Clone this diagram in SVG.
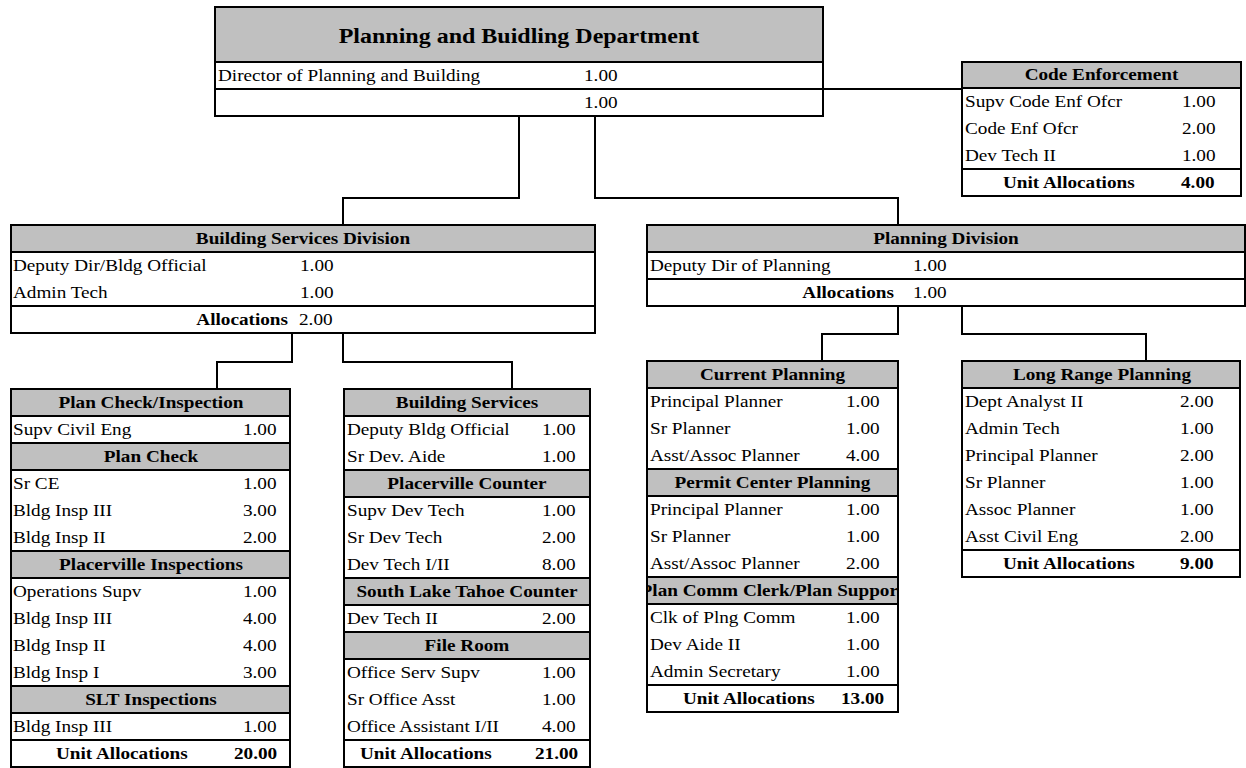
<svg xmlns="http://www.w3.org/2000/svg" width="1246" height="768" viewBox="0 0 1246 768">
<style>
.bg{fill:#fff}
.hd{fill:#c0c0c0}
.sep{stroke:#000;stroke-width:2}
.frame{fill:none;stroke:#000;stroke-width:2}
.conn{fill:none;stroke:#000;stroke-width:2}
text{font-family:"Liberation Serif","Times New Roman",serif;font-size:16px;fill:#000;transform-box:fill-box;transform-origin:left center;transform:scaleX(1.2)}
.b{font-weight:bold}
.c{text-anchor:middle;transform-origin:center}
.e{text-anchor:end;transform-origin:right center}
.title{font-size:20px}
</style>
<defs>
<clipPath id="clipPC"><rect x="648" y="577" width="249" height="27"/></clipPath>
</defs>
<rect width="1246" height="768" fill="#fff"/>

<g id="connectors">
<polyline class="conn" points="519,116 519,198 343,198 343,225"/>
<polyline class="conn" points="595,116 595,198 898,198 898,225"/>
<polyline class="conn" points="823,89 962,89"/>
<polyline class="conn" points="292,333 292,362 217,362 217,389"/>
<polyline class="conn" points="343,333 343,362 512,362 512,389"/>
<polyline class="conn" points="898,306 898,334 822,334 822,361"/>
<polyline class="conn" points="962,306 962,334 1146,334 1146,361"/>
</g>

<g id="dept">
<rect class="bg" x="215" y="7" width="608" height="109"/>
<rect class="hd" x="215" y="7" width="608" height="55"/>
<line class="sep" x1="215" y1="62" x2="823" y2="62"/>
<line class="sep" x1="215" y1="89" x2="823" y2="89"/>
<text class="b c title" x="519" y="43">Planning and Buidling Department</text>
<text x="218" y="81">Director of Planning and Building</text>
<text x="584" y="81">1.00</text>
<text x="584" y="108">1.00</text>
<rect class="frame" x="215" y="7" width="608" height="109"/>
</g>

<g id="code-enforcement">
<rect class="bg" x="962" y="62" width="279" height="134"/>
<rect class="hd" x="962" y="62" width="279" height="26"/>
<line class="sep" x1="962" y1="88" x2="1241" y2="88"/>
<line class="sep" x1="962" y1="169" x2="1241" y2="169"/>
<text class="b c" x="1101.5" y="80.5">Code Enforcement</text>
<text x="965" y="107">Supv Code Enf Ofcr</text><text x="1182" y="107">1.00</text>
<text x="965" y="134">Code Enf Ofcr</text><text x="1182" y="134">2.00</text>
<text x="965" y="161">Dev Tech II</text><text x="1182" y="161">1.00</text>
<text class="b" x="1003" y="188">Unit Allocations</text><text class="b" x="1181" y="188">4.00</text>
<rect class="frame" x="962" y="62" width="279" height="134"/>
</g>

<g id="building-services-division">
<rect class="bg" x="11" y="225" width="584" height="108"/>
<rect class="hd" x="11" y="225" width="584" height="27"/>
<line class="sep" x1="11" y1="252" x2="595" y2="252"/>
<line class="sep" x1="11" y1="306" x2="595" y2="306"/>
<text class="b c" x="303" y="244">Building Services Division</text>
<text x="13" y="271">Deputy Dir/Bldg Official</text><text x="300" y="271">1.00</text>
<text x="13" y="298">Admin Tech</text><text x="300" y="298">1.00</text>
<text class="b e" x="288" y="325">Allocations</text><text x="299" y="325">2.00</text>
<rect class="frame" x="11" y="225" width="584" height="108"/>
</g>

<g id="planning-division">
<rect class="bg" x="647" y="225" width="598" height="81"/>
<rect class="hd" x="647" y="225" width="598" height="27"/>
<line class="sep" x1="647" y1="252" x2="1245" y2="252"/>
<line class="sep" x1="647" y1="279" x2="1245" y2="279"/>
<text class="b c" x="946" y="244">Planning Division</text>
<text x="650" y="271">Deputy Dir of Planning</text><text x="913" y="271">1.00</text>
<text class="b e" x="894" y="298">Allocations</text><text x="913" y="298">1.00</text>
<rect class="frame" x="647" y="225" width="598" height="81"/>
</g>

<g id="plan-check-inspection">
<rect class="bg" x="11" y="389" width="279" height="378"/>
<rect class="hd" x="11" y="389" width="279" height="27"/>
<rect class="hd" x="11" y="443" width="279" height="27"/>
<rect class="hd" x="11" y="551" width="279" height="27"/>
<rect class="hd" x="11" y="686" width="279" height="27"/>
<line class="sep" x1="11" y1="416" x2="290" y2="416"/>
<line class="sep" x1="11" y1="443" x2="290" y2="443"/>
<line class="sep" x1="11" y1="470" x2="290" y2="470"/>
<line class="sep" x1="11" y1="551" x2="290" y2="551"/>
<line class="sep" x1="11" y1="578" x2="290" y2="578"/>
<line class="sep" x1="11" y1="686" x2="290" y2="686"/>
<line class="sep" x1="11" y1="713" x2="290" y2="713"/>
<line class="sep" x1="11" y1="740" x2="290" y2="740"/>
<text class="b c" x="151" y="408">Plan Check/Inspection</text>
<text x="13" y="435">Supv Civil Eng</text><text x="243" y="435">1.00</text>
<text class="b c" x="151" y="462">Plan Check</text>
<text x="13" y="489">Sr CE</text><text x="243" y="489">1.00</text>
<text x="13" y="516">Bldg Insp III</text><text x="243" y="516">3.00</text>
<text x="13" y="543">Bldg Insp II</text><text x="243" y="543">2.00</text>
<text class="b c" x="151" y="570">Placerville Inspections</text>
<text x="13" y="597">Operations Supv</text><text x="243" y="597">1.00</text>
<text x="13" y="624">Bldg Insp III</text><text x="243" y="624">4.00</text>
<text x="13" y="651">Bldg Insp II</text><text x="243" y="651">4.00</text>
<text x="13" y="678">Bldg Insp I</text><text x="243" y="678">3.00</text>
<text class="b c" x="151" y="705">SLT Inspections</text>
<text x="13" y="732">Bldg Insp III</text><text x="243" y="732">1.00</text>
<text class="b" x="56" y="759">Unit Allocations</text><text class="b" x="234" y="759">20.00</text>
<rect class="frame" x="11" y="389" width="279" height="378"/>
</g>

<g id="building-services">
<rect class="bg" x="344" y="389" width="246" height="378"/>
<rect class="hd" x="344" y="389" width="246" height="27"/>
<rect class="hd" x="344" y="470" width="246" height="27"/>
<rect class="hd" x="344" y="578" width="246" height="27"/>
<rect class="hd" x="344" y="632" width="246" height="27"/>
<line class="sep" x1="344" y1="416" x2="590" y2="416"/>
<line class="sep" x1="344" y1="470" x2="590" y2="470"/>
<line class="sep" x1="344" y1="497" x2="590" y2="497"/>
<line class="sep" x1="344" y1="578" x2="590" y2="578"/>
<line class="sep" x1="344" y1="605" x2="590" y2="605"/>
<line class="sep" x1="344" y1="632" x2="590" y2="632"/>
<line class="sep" x1="344" y1="659" x2="590" y2="659"/>
<line class="sep" x1="344" y1="740" x2="590" y2="740"/>
<text class="b c" x="467" y="408">Building Services</text>
<text x="347" y="435">Deputy Bldg Official</text><text x="542" y="435">1.00</text>
<text x="347" y="462">Sr Dev. Aide</text><text x="542" y="462">1.00</text>
<text class="b c" x="467" y="489">Placerville Counter</text>
<text x="347" y="516">Supv Dev Tech</text><text x="542" y="516">1.00</text>
<text x="347" y="543">Sr Dev Tech</text><text x="542" y="543">2.00</text>
<text x="347" y="570">Dev Tech I/II</text><text x="542" y="570">8.00</text>
<text class="b c" x="467" y="597">South Lake Tahoe Counter</text>
<text x="347" y="624">Dev Tech II</text><text x="542" y="624">2.00</text>
<text class="b c" x="467" y="651">File Room</text>
<text x="347" y="678">Office Serv Supv</text><text x="542" y="678">1.00</text>
<text x="347" y="705">Sr Office Asst</text><text x="542" y="705">1.00</text>
<text x="347" y="732">Office Assistant I/II</text><text x="542" y="732">4.00</text>
<text class="b" x="360" y="759">Unit Allocations</text><text class="b" x="535" y="759">21.00</text>
<rect class="frame" x="344" y="389" width="246" height="378"/>
</g>

<g id="current-planning">
<rect class="bg" x="647" y="361" width="251" height="351"/>
<rect class="hd" x="647" y="361" width="251" height="27"/>
<rect class="hd" x="647" y="469" width="251" height="27"/>
<rect class="hd" x="647" y="577" width="251" height="27"/>
<line class="sep" x1="647" y1="388" x2="898" y2="388"/>
<line class="sep" x1="647" y1="469" x2="898" y2="469"/>
<line class="sep" x1="647" y1="496" x2="898" y2="496"/>
<line class="sep" x1="647" y1="577" x2="898" y2="577"/>
<line class="sep" x1="647" y1="604" x2="898" y2="604"/>
<line class="sep" x1="647" y1="685" x2="898" y2="685"/>
<text class="b c" x="772.5" y="380">Current Planning</text>
<text x="650" y="407">Principal Planner</text><text x="846" y="407">1.00</text>
<text x="650" y="434">Sr Planner</text><text x="846" y="434">1.00</text>
<text x="650" y="461">Asst/Assoc Planner</text><text x="846" y="461">4.00</text>
<text class="b c" x="772.5" y="488">Permit Center Planning</text>
<text x="650" y="515">Principal Planner</text><text x="846" y="515">1.00</text>
<text x="650" y="542">Sr Planner</text><text x="846" y="542">1.00</text>
<text x="650" y="569">Asst/Assoc Planner</text><text x="846" y="569">2.00</text>
<g clip-path="url(#clipPC)"><text class="b c" x="772.5" y="596">Plan Comm Clerk/Plan Support</text></g>
<text x="650" y="623">Clk of Plng Comm</text><text x="846" y="623">1.00</text>
<text x="650" y="650">Dev Aide II</text><text x="846" y="650">1.00</text>
<text x="650" y="677">Admin Secretary</text><text x="846" y="677">1.00</text>
<text class="b" x="683" y="704">Unit Allocations</text><text class="b" x="841" y="704">13.00</text>
<rect class="frame" x="647" y="361" width="251" height="351"/>
</g>

<g id="long-range-planning">
<rect class="bg" x="962" y="361" width="278" height="216"/>
<rect class="hd" x="962" y="361" width="278" height="27"/>
<line class="sep" x1="962" y1="388" x2="1240" y2="388"/>
<line class="sep" x1="962" y1="550" x2="1240" y2="550"/>
<text class="b c" x="1102" y="380">Long Range Planning</text>
<text x="965" y="407">Dept Analyst II</text><text x="1180" y="407">2.00</text>
<text x="965" y="434">Admin Tech</text><text x="1180" y="434">1.00</text>
<text x="965" y="461">Principal Planner</text><text x="1180" y="461">2.00</text>
<text x="965" y="488">Sr Planner</text><text x="1180" y="488">1.00</text>
<text x="965" y="515">Assoc Planner</text><text x="1180" y="515">1.00</text>
<text x="965" y="542">Asst Civil Eng</text><text x="1180" y="542">2.00</text>
<text class="b" x="1003" y="569">Unit Allocations</text><text class="b" x="1180" y="569">9.00</text>
<rect class="frame" x="962" y="361" width="278" height="216"/>
</g>
</svg>
